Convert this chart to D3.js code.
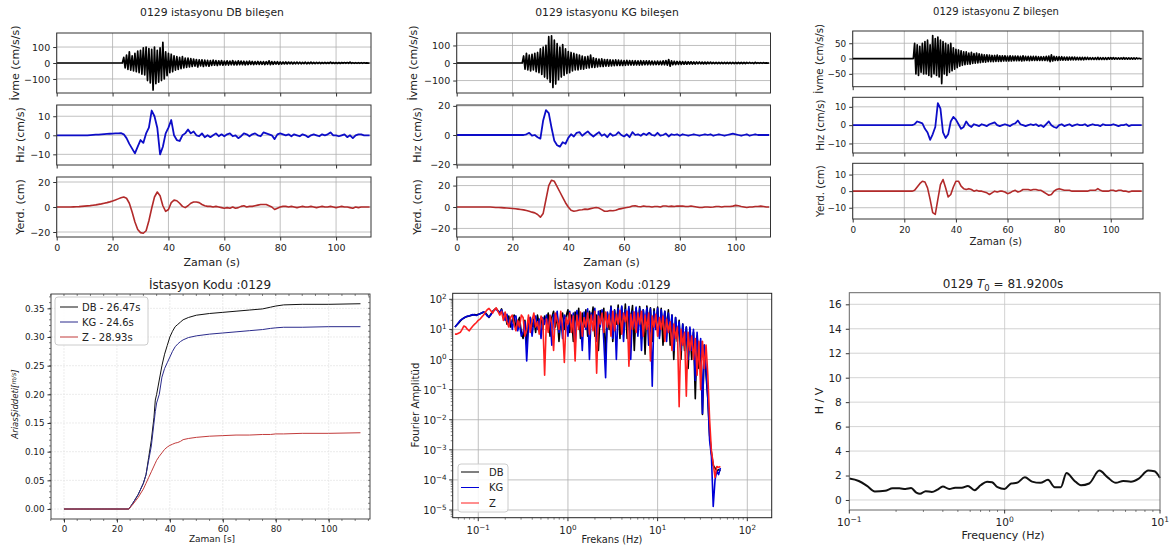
<!DOCTYPE html>
<html>
<head>
<meta charset="utf-8">
<script src="https://cdn.jsdelivr.net/npm/d3@7"></script>
<style>
  body { margin: 0; background: #fff; }
  svg { font-family: "DejaVu Sans", sans-serif; }
</style>
</head>
<body>
<svg width="1176" height="546"></svg>
<script>
// ---- data ----
var stationCode = "0129";
var rowLabels = ["İvme (cm/s/s)", "Hız (cm/s)", "Yerd. (cm)"];
var timeTicks = [0, 20, 40, 60, 80, 100];

// acceleration, one value every 0.5 s from 23.5 s (zero before)
var accStart = 23.5, accStep = 0.5;
var accDB = [0, 35, -30, 50, -40, 70, -45, 45, -50, 60,
  -55, 75, -60, 80, -70, 95, -75, 100, -110, 90,
  -125, 85, -170, 100, -130, 80, -120, 95, -110, 130,
  -100, 70, -80, 60, -60, 55, -55, 45, -45, 40,
  -40, 35, -35, 40, -30, 30, -28, 30, -25, 28,
  -22, 25, -20, 22, -25, 20, -18, 20, -22, 18,
  -18, 16, -20, 15, -15, 18, -14, 15, -16, 14,
  -12, 15, -14, 12, -12, 14, -13, 12, -11, 15,
  -12, 10, -12, 14, -10, 12, -10, 11, -12, 10,
  -10, 12, -9, 10, -10, 9, -8, 10, -9, 9,
  -8, 9, -10, 8, -8, 14, -10, 9, -8, 8,
  -7, 8, -8, 7, -7, 6, -6, 7, -6, 6,
  -5, 6, -6, 5, -5, 6, -5, 5, -5, 4,
  -4, 5, -5, 4, -4, 5, -4, 4, -4, 4,
  -3, 4, -4, 3, -3, 4, -3, 3, -3, 5,
  -3, 3, -3, 3, -3, 3, -3, 3, -2, 3,
  -2, 3, -2, 6, -2, 2, -2, 2, -2, 2,
  -2, 2, -2, 2, -1, 1, -1, 0];
var accKG = [0, 40, -35, 55, -40, 45, -45, 50, -40, 55,
  -50, 60, -55, 80, -65, 90, -80, 100, -90, 150,
  -110, 155, -140, 130, -120, 110, -95, 90, -80, 105,
  -70, 80, -60, 65, -55, 60, -45, 55, -40, 50,
  -40, 45, -35, 40, -35, 35, -30, 38, -28, 45,
  -25, 30, -25, 25, -22, 22, -20, 24, -20, 20,
  -18, 20, -18, 18, -16, 17, -15, 18, -14, 16,
  -14, 15, -14, 14, -13, 15, -12, 14, -12, 13,
  -12, 13, -11, 12, -12, 13, -11, 12, -10, 12,
  -10, 12, -10, 11, -10, 10, -9, 11, -9, 10,
  -10, 12, -10, 14, -12, 20, -18, 12, -10, 10,
  -9, 9, -8, 9, -8, 8, -7, 8, -7, 7,
  -6, 7, -6, 6, -6, 6, -5, 6, -5, 5,
  -5, 5, -5, 5, -4, 5, -4, 4, -4, 4,
  -4, 4, -4, 4, -3, 4, -3, 3, -3, 4,
  -3, 4, -3, 3, -3, 3, -3, 3, -3, 3,
  -3, 3, -2, 3, -2, 2, -3, 4, -2, 2,
  -2, 2, -2, 2, -1, 1, -1, 0];
var accZ = [0, 50, -50, 45, -55, 40, -45, 50, -50, 55,
  -50, 60, -55, 45, -60, 75, -50, 65, -55, 70,
  -60, 60, -82, 55, -50, 50, -55, 45, -45, 50,
  -40, 35, -35, 30, -30, 28, -25, 25, -22, 22,
  -20, 22, -18, 18, -18, 20, -16, 16, -15, 18,
  -14, 15, -13, 14, -12, 12, -12, 12, -10, 11,
  -10, 10, -10, 10, -9, 11, -9, 9, -9, 9,
  -8, 9, -8, 8, -8, 9, -8, 8, -7, 8,
  -7, 8, -7, 7, -8, 9, -7, 7, -6, 7,
  -7, 7, -6, 7, -6, 7, -6, 6, -6, 6,
  -6, 6, -6, 7, -7, 8, -10, 12, -8, 7,
  -6, 6, -6, 6, -5, 6, -5, 5, -5, 5,
  -5, 5, -4, 5, -4, 5, -4, 4, -4, 4,
  -4, 4, -4, 4, -3, 4, -3, 3, -3, 3,
  -3, 3, -3, 4, -3, 3, -3, 3, -3, 3,
  -3, 3, -2, 3, -2, 3, -2, 2, -2, 2,
  -2, 2, -2, 3, -2, 2, -2, 2, -2, 2,
  -2, 2, -2, 2, -1, 1, -1, 0];

// velocity and displacement, one value per second from 0 s
var velDB = [0, 0, 0, 0, 0, 0, 0, 0, 0, 0,
  0, 0, 0.1, 0.2, 0.3, 0.4, 0.5, 0.6, 0.7, 0.8,
  0.9, 1, 1, 1.1, 0.5, -1.5, -4.5, -7, -9.5, -6,
  -2.5, -4, 1, 4, 13, 10, 4, -10, -6, 1,
  4, 8, 0, -2.5, -3, 0, 1, 3, 1, 2,
  0, -0.5, 1, -1, 0, -1, 0, 1, -0.5, 0.5,
  -0.5, 0.5, 1, -0.5, 0, -1.5, -0.5, 1, 0.5, -0.5,
  0.5, 1, 0, -0.5, 1.5, 1, 0.5, 0, -2, 0.5,
  1, 0.5, 0, 0.5, -0.5, 0.5, 0, -0.5, 0.5, 0,
  -1, 0, 0.5, 0, -0.5, 0.5, 0, 0.5, 1.5, 0,
  0, -0.5, 0, 0.5, -1, 0, -1.5, 0, 0.5, 0.5,
  0, 0, 0];
var velKG = [0, 0, 0, 0, 0, 0, 0, 0, 0, 0,
  0, 0, 0, 0, 0, 0, 0, 0, 0, 0,
  0, 0, 0, 0, 0, 0.5, 1.5, -0.5, 0, -1.5,
  -2.5, 10, 17, 15, 5, -4, -7, -8, -5, -6,
  -2, 0.5, -1, 1.5, 2, -0.5, 1, 2.5, 0.5, -1,
  0.5, 2, -0.5, 0.5, -1.5, 1, -0.5, 0, 2, 0,
  -1, 0.5, -1.5, 2, 0, 0.5, -0.5, 1, 0, 1.5,
  0, -0.5, 1.5, -0.5, 0, 1, -1, 0.5, 0, 0.5,
  -0.5, 0.5, 0, -0.5, 0, 0.5, 0, -0.5, 0, 0.5,
  0, 0.5, -0.5, 0, 0.5, 0, -0.5, 0, 0.5, 1,
  0.5, 0, -0.5, 0, 0.5, -0.5, 0, 0.5, 0, 0,
  0, 0, 0];
var velZ = [0, 0, 0, 0, 0, 0, 0, 0, 0, 0,
  0, 0, 0, 0, 0, 0, 0, 0, 0, 0,
  0, 0, 0, 0, 0.5, 2, 1.5, 1, -2, -4,
  -8, -5, -1, 12, 9, -4, -7, -5, 2, 4.5,
  3, 0.5, -2, -1, 2, 0, -1, 0.5, 0, -0.5,
  0.5, 0, -0.5, 0.5, 1, 1.5, 0, -0.5, 0, 0.5,
  0, -0.5, 0.5, 1, 2.5, 0.5, 0, -0.5, 0, 0.5,
  0, 0.5, -0.5, 0, -1, 0.5, 2, 0, -1, -1.5,
  0, 0.5, -0.5, 0, 0.5, -0.5, 0, 0.5, 0, 0,
  0.5, -0.5, 0, 0.5, 0, 0, -0.5, 0.5, 0, 0,
  0, 0.5, 0, -0.5, 0, 0, 0.5, -0.5, 0, 0,
  0, 0, 0];
var dispDB = [0, 0, 0, 0, 0, 0, 0.1, 0.2, 0.3, 0.5,
  0.7, 0.9, 1.1, 1.4, 1.7, 2.1, 2.5, 3, 3.5, 4.1,
  4.8, 5.6, 6.5, 7.4, 8, 7, 3, -4, -12, -18,
  -20.5, -21, -19, -11, -1, 8, 12, 9, 1, -3.5,
  -2, 3.5, 5.5, 5, 3, 0.5, -0.5, 1, 3, 4,
  4, 3.5, 2, 1, 0.5, 0.5, 0, 0.5, 0, -0.5,
  -1, -0.5, -1, 0, -1, -0.5, 0.5, 1, 0, 0.5,
  0.5, 1, 1.5, 2, 2, 2, 1, 0, -2, -1,
  0, 0.5, 0.5, 0, 0.5, 0, -0.5, 0, 0.5, 0,
  0, 0.5, 0, -0.5, 0, 0.5, 0, 0, 0.5, 0,
  -0.5, 0, 0.5, 0, 0, -0.5, -1, 0, -0.5, 0,
  0, 0, 0];
var dispKG = [0, 0, 0, 0, 0, 0, 0, 0, 0, 0,
  0, 0, 0, -0.2, -0.4, -0.5, -0.6, -0.8, -1, -1.2,
  -1.4, -1.7, -2, -2.3, -2.7, -3.2, -4, -4.8, -5.5, -7,
  -9.5, -6, 7, 20, 25, 24, 19, 14, 9, 4,
  0, -3, -4, -3.5, -2.8, -2.5, -2, -2.2, -1.5, -1,
  -0.5, -1, -2.5, -4, -4, -3.2, -3.5, -3, -2, -1.5,
  -1, -0.5, 0, 1, 1.2, 0.5, 0.3, 1, 0.5, 0.5,
  0, 0.5, 0.5, 0, 1, 1, 0.5, 0.8, 0.5, 1,
  0.8, 1, 0.5, 0.5, 1, 0.5, 0, -0.5, -0.5, 0,
  0, -0.3, 0, 0.5, 0.5, 0, 0.5, 0.5, 0.5, 0.8,
  1.5, 1.2, 0.5, 0, -0.5, 0, 0, 0.5, 0.5, 0.8,
  0.5, 0, 0];
var dispZ = [0, 0, 0, 0, 0, 0, 0, 0, 0, 0,
  0, 0, 0, 0, 0, 0, 0, 0, 0, 0,
  0, 0, 0, 0, 0.5, 2.5, 4.5, 6, 5.5, 2,
  -5, -13, -14, -5, 4, 7, 2, -3.5, -2, 2.5,
  6, 6, 3, 1.5, 1, 1.5, 1, 0, 0.5, 0,
  0, -0.5, -1, -2, -1, 0, -0.5, 0, 0, -0.5,
  -1.5, -1, 0, 0.5, -0.5, 0, 1, 1, 1, 0.5,
  1, 1, 0.5, 0.5, -0.5, -1.5, -2.5, -2, 0, 1,
  1.5, 1, 0.5, 0.5, 0.5, 0, 0, 0, 0, 0,
  0, 0, 0.5, 0.5, 0.5, 1.5, 0.5, 0, 0, 0,
  0.5, 0.5, 0, 0.5, 0.5, 0, 0, -0.5, 0, 0,
  0, 0, 0];

// Arias intensity
var ariasTime = [0, 24.5, 26, 28, 30, 31, 32, 33, 34, 34.5, 35, 36, 37, 38, 39, 40, 41, 42, 43, 44,
  45, 47, 50, 55, 60, 65, 70, 75, 78, 80, 83, 90, 100, 112];
var ariasDB = [0, 0, 0.01, 0.025, 0.045, 0.06, 0.09, 0.12, 0.16, 0.19, 0.2, 0.225, 0.25, 0.27, 0.285, 0.3, 0.31, 0.318, 0.322, 0.326,
  0.33, 0.334, 0.338, 0.341, 0.343, 0.345, 0.347, 0.349, 0.352, 0.354, 0.356, 0.357, 0.357, 0.358];
var ariasKG = [0, 0, 0.01, 0.025, 0.045, 0.06, 0.085, 0.11, 0.15, 0.17, 0.185, 0.2, 0.23, 0.245, 0.255, 0.265, 0.275, 0.283, 0.288, 0.292,
  0.295, 0.299, 0.302, 0.305, 0.307, 0.309, 0.311, 0.313, 0.315, 0.316, 0.317, 0.317, 0.318, 0.318];
var ariasZ = [0, 0, 0.008, 0.02, 0.035, 0.045, 0.055, 0.065, 0.075, 0.08, 0.085, 0.092, 0.098, 0.104, 0.108, 0.111, 0.113, 0.115, 0.116, 0.118,
  0.121, 0.123, 0.125, 0.127, 0.128, 0.129, 0.129, 0.13, 0.13, 0.131, 0.131, 0.132, 0.132, 0.133];
var ariasLabels = ["DB - 26.47s", "KG - 24.6s", "Z - 28.93s"];
var ariasXTicks = [0, 20, 40, 60, 80, 100];
var ariasYTicks = [0, 0.05, 0.1, 0.15, 0.2, 0.25, 0.3, 0.35];

// Fourier amplitude, sampled every 0.02 in log10(frequency) from -1.26
var fourierLogStart = -1.26, fourierLogStep = 0.02;
var fourierDB = [12, 14, 16, 19, 22, 24, 26, 27, 28, 29, 30, 31, 30, 32,
  33, 35, 38, 36, 30, 25, 32, 40, 45, 50, 42, 35,
  48, 25, 35, 15, 28, 12, 20, 30, 10, 18, 25, 8,
  5, 20, 3, 15, 25, 12, 22, 8, 30, 15, 25, 10, 28,
  18, 35, 6, 25, 40, 12, 30, 4, 22, 35, 10, 28,
  45, 8, 30, 4, 38, 15, 50, 5, 35, 12,
  45, 6, 40, 18, 55, 6, 30, 2, 42, 20,
  50, 1, 35, 10, 60, 4, 45, 15, 65, 5,
  55, 8, 70, 5, 48, 20, 62, 2, 50, 12,
  58, 5, 45, 1.5, 60, 15, 52, 4, 48, 10,
  55, 6, 50, 3, 40, 12, 45, 3, 30, 1,
  25, 4, 20, 1, 15, 2, 12, 0.5, 10, 1,
  8, 0.05, 6, 0.5, 4, 0.015, 3, 0.3, 0.05, 0.003,
  0.0008, 0.0003, 0.00025, 0.0002, 0.00022, 0.0002];
var fourierKG = [12, 14, 17, 20, 22, 24, 26, 28, 28, 30, 31, 30, 29, 31,
  33, 36, 38, 34, 28, 26, 30, 38, 44, 48, 40, 38,
  45, 30, 20, 32, 14, 22, 10, 25, 28, 9, 16, 6,
  8, 18, 0.9, 12, 25, 6, 20, 28, 10, 22, 5, 25, 15,
  30, 10, 28, 3, 32, 18, 40, 8, 25, 5, 30, 20,
  6, 40, 12, 35, 3, 42, 18, 30, 2, 38,
  10, 48, 1, 35, 20, 50, 4, 40, 12, 45,
  4, 0.25, 38, 15, 55, 5, 42, 1, 50, 18,
  60, 4, 45, 22, 58, 1, 40, 12, 55, 6,
  50, 2, 45, 18, 52, 3, 48, 0.13, 40, 10,
  50, 5, 45, 15, 40, 4, 35, 8, 30, 2,
  25, 6, 18, 2, 15, 3, 12, 1, 12, 2,
  10, 0.2, 8, 1, 5, 0.016, 3, 0.5, 0.05, 0.002,
  0.0006, 0.000013, 0.0001, 0.0002, 0.00015, 0.00025];
var fourierZ = [7, 7, 7.5, 8, 10, 13, 12, 10, 9, 11, 13, 15, 17, 20,
  22, 26, 30, 38, 45, 50, 42, 35, 45, 52, 40, 30,
  40, 20, 38, 18, 12, 25, 30, 15, 9, 20, 12, 30,
  25, 6, 10, 30, 8, 20, 35, 12, 18, 7, 28, 20, 0.3,
  22, 8, 30, 15, 2, 35, 20, 10, 40, 12, 0.8, 25,
  15, 35, 8, 28, 0.9, 30, 10, 38, 6, 25,
  12, 35, 7, 30, 9, 40, 0.35, 28, 15, 35,
  8, 38, 12, 30, 6, 40, 9, 32, 15, 42,
  7, 35, 18, 40, 0.6, 32, 10, 38, 8, 35,
  15, 40, 6, 30, 10, 35, 0.9, 28, 12, 32,
  6, 25, 10, 28, 4, 22, 8, 18, 2, 15,
  5, 12, 0.027, 10, 3, 8, 0.06, 8, 2, 6,
  1, 5, 0.3, 4, 0.1, 4, 0.5, 3, 0.3, 0.01,
  0.0009, 0.00035, 0.00012, 0.00028, 0.00026, 0.00028];
var fourierNames = ["DB", "KG", "Z"];

// H/V spectral ratio
var hvFreq = [0.1, 0.115, 0.13, 0.146, 0.17, 0.19, 0.21, 0.23, 0.25, 0.27, 0.285, 0.31, 0.34, 0.37, 0.4, 0.44,
  0.48, 0.53, 0.58, 0.64, 0.7, 0.77, 0.83, 0.9, 1.0, 1.1, 1.2, 1.35, 1.5, 1.7, 1.9, 2.1, 2.3, 2.5, 2.8,
  3.1, 3.5, 4.07, 4.6, 5.2, 5.8, 6.5, 7.3, 8.4, 9.2, 10];
var hvRatio = [1.75, 1.55, 1.15, 0.7, 0.75, 0.95, 0.95, 0.9, 0.97, 0.6, 0.5, 0.72, 0.65, 0.85, 1.1, 0.9,
  1.0, 1.0, 1.15, 0.8, 1.2, 1.5, 1.45, 1.05, 0.9, 1.35, 1.4, 1.85, 1.5, 1.4, 1.65, 1.05, 1.05, 2.2, 1.6,
  1.2, 1.35, 2.4, 1.85, 1.4, 1.55, 1.5, 1.75, 2.4, 2.35, 1.8];
var hvYTicks = [0, 2, 4, 6, 8, 10, 12, 14, 16];
var hvPeriod = "81.9200";

var svg = d3.select("svg");
var textColor = "#222";

function styleAxis(sel, size) {
  sel.attr("font-family", "DejaVu Sans, sans-serif").attr("font-size", size);
  sel.select(".domain").remove();
  sel.selectAll("line").attr("stroke", "#333");
  sel.selectAll("text").attr("fill", textColor);
}

function clipRect(id, x, y, w, h) {
  svg.append("clipPath").attr("id", id).append("rect")
    .attr("x", x).attr("y", y).attr("width", w).attr("height", h);
}

function yLabel(x, y, text, size) {
  return svg.append("text")
    .attr("transform", "translate(" + x + "," + y + ") rotate(-90)")
    .attr("dy", "0.35em")
    .attr("text-anchor", "middle")
    .attr("font-size", size)
    .attr("fill", textColor)
    .text(text);
}

// "10" with an exponent
function powText(parent, x, y, exp, size, anchor) {
  var t = parent.append("text").attr("x", x).attr("y", y)
    .attr("text-anchor", anchor).attr("font-size", size).attr("fill", textColor);
  t.append("tspan").text("10");
  t.append("tspan").attr("dy", -size * 0.42).attr("font-size", size * 0.72)
    .text(exp < 0 ? "−" + (-exp) : exp);
  return t;
}

// ---- top row: accel / velocity / displacement per component ----
var topGroups = [
  { key: "DB", acc: accDB, vel: velDB, disp: dispDB, left: 56.7, right: 371, tops: [33, 105, 177], h: 60,
    doms: [[-188, 188], [-15.6, 15.9], [-24, 24]], ticks: [[-100, 0, 100], [-10, 0, 10], [-20, 0, 20]],
    labelX: [15, 20, 20], titleX: 212, titleY: 16, xLabelY: 266, fs: 1 },
  { key: "KG", acc: accKG, vel: velKG, disp: dispKG, left: 456.7, right: 770.5, tops: [33, 105, 177], h: 60,
    doms: [[-171, 171], [-20.6, 20.6], [-28, 28]], ticks: [[-100, 0, 100], [-20, 0, 20], [-20, 0, 20]],
    labelX: [413, 417, 417], titleX: 607, titleY: 16, xLabelY: 266, fs: 1 },
  { key: "Z", acc: accZ, vel: velZ, disp: dispZ, left: 852.7, right: 1143, tops: [31, 97.3, 163.3], h: 55.7,
    doms: [[-92, 90], [-15.2, 15.2], [-16.8, 16.8]], ticks: [[-50, 0, 50], [-10, 0, 10], [-10, 0, 10]],
    labelX: [819, 820, 820], titleX: 996, titleY: 15, xLabelY: 245, fs: 0.93 }
];
var rowColors = ["#000", "#0d0dc8", "#b22a2a"];
var rowWidths = [1.7, 1.8, 1.6];

topGroups.forEach(function(gr) {
  var x = d3.scaleLinear().domain([0, 112.5]).range([gr.left, gr.right]);
  var w = gr.right - gr.left;

  svg.append("text").attr("x", gr.titleX).attr("y", gr.titleY)
    .attr("text-anchor", "middle").attr("font-size", 10.8 * gr.fs).attr("fill", textColor)
    .text(stationCode + " istasyonu " + gr.key + " bileşen");

  [gr.acc, gr.vel, gr.disp].forEach(function(vals, r) {
    var top = gr.tops[r], bottom = top + gr.h;
    var y = d3.scaleLinear().domain(gr.doms[r]).range([bottom, top]);
    var g = svg.append("g");

    // grid
    g.selectAll(".vgrid").data(timeTicks).enter().append("line").attr("class", "vgrid")
      .attr("x1", d => x(d)).attr("x2", d => x(d)).attr("y1", top).attr("y2", bottom)
      .attr("stroke", "#b0b0b0").attr("stroke-width", 0.8);
    g.selectAll(".hgrid").data(gr.ticks[r]).enter().append("line").attr("class", "hgrid")
      .attr("x1", gr.left).attr("x2", gr.right).attr("y1", d => y(d)).attr("y2", d => y(d))
      .attr("stroke", "#b0b0b0").attr("stroke-width", 0.8);

    var pts;
    if (r === 0) {
      pts = [[0, 0]].concat(vals.map((v, i) => [accStart + i * accStep, v]));
    } else {
      pts = vals.map((v, i) => [i, v]);
    }
    var cid = "clip" + gr.key + r;
    clipRect(cid, gr.left, top, w, gr.h);
    g.append("path").datum(pts)
      .attr("clip-path", "url(#" + cid + ")")
      .attr("fill", "none")
      .attr("stroke", rowColors[r])
      .attr("stroke-width", rowWidths[r])
      .attr("stroke-linejoin", "round")
      .attr("d", d3.line().x(d => x(d[0])).y(d => y(d[1])));

    g.append("rect").attr("x", gr.left).attr("y", top).attr("width", w).attr("height", gr.h)
      .attr("fill", "none").attr("stroke", "#333").attr("stroke-width", 1);

    var ya = g.append("g").attr("transform", "translate(" + gr.left + ",0)")
      .call(d3.axisLeft(y).tickValues(gr.ticks[r]).tickSize(3.5).tickPadding(3).tickFormat(d3.format("d")));
    styleAxis(ya, 9.5 * gr.fs);

    var xa = g.append("g").attr("transform", "translate(0," + bottom + ")")
      .call(d3.axisBottom(x).tickValues(timeTicks).tickSize(3.5).tickPadding(4)
        .tickFormat(r === 2 ? d3.format("d") : ""));
    styleAxis(xa, 9.5 * gr.fs);

    yLabel(gr.labelX[r], top + gr.h / 2, rowLabels[r], 11 * gr.fs);
  });

  svg.append("text").attr("x", (gr.left + gr.right) / 2 - 2).attr("y", gr.xLabelY)
    .attr("text-anchor", "middle").attr("font-size", 11 * gr.fs).attr("fill", textColor)
    .text("Zaman (s)");
});

// ---- Arias intensity ----
(function() {
  var L = 51, R = 370, T = 294, B = 519;
  var x = d3.scaleLinear().domain([-4.9, 115.6]).range([L, R]);
  var y = d3.scaleLinear().domain([-0.0174, 0.375]).range([B, T]);
  var g = svg.append("g");

  var xMinor = d3.range(-5, 116, 5), yMinor = d3.range(0, 0.375, 0.01);
  g.selectAll(".mg").data(ariasXTicks).enter().append("line").attr("class", "mg")
    .attr("x1", d => x(d)).attr("x2", d => x(d)).attr("y1", T).attr("y2", B)
    .attr("stroke", "#e4e4e4").attr("stroke-width", 0.7).attr("stroke-dasharray", "2,1");
  g.selectAll(".ng").data(ariasYTicks).enter().append("line").attr("class", "ng")
    .attr("x1", L).attr("x2", R).attr("y1", d => y(d)).attr("y2", d => y(d))
    .attr("stroke", "#e4e4e4").attr("stroke-width", 0.7).attr("stroke-dasharray", "2,1");

  var series = [ariasDB, ariasKG, ariasZ];
  var colors = ["#111", "#2b2b8c", "#c23b3b"];
  var line = d3.line().x(d => x(d[0])).y(d => y(d[1]));
  series.forEach(function(s, k) {
    g.append("path").datum(s.map((v, i) => [ariasTime[i], v]))
      .attr("fill", "none").attr("stroke", colors[k]).attr("stroke-width", 1).attr("d", line);
  });

  g.append("rect").attr("x", L).attr("y", T).attr("width", R - L).attr("height", B - T)
    .attr("fill", "none").attr("stroke", "#333").attr("stroke-width", 0.9);

  var xa = g.append("g").attr("transform", "translate(0," + B + ")")
    .call(d3.axisBottom(x).tickValues(ariasXTicks).tickSize(3.5).tickPadding(3).tickFormat(d3.format("d")));
  styleAxis(xa, 8.8);
  var ya = g.append("g").attr("transform", "translate(" + L + ",0)")
    .call(d3.axisLeft(y).tickValues(ariasYTicks).tickSize(3.5).tickPadding(3).tickFormat(d3.format(".2f")));
  styleAxis(ya, 8.8);

  // minor ticks on all sides
  g.selectAll(".mxb").data(xMinor).enter().append("line")
    .attr("x1", d => x(d)).attr("x2", d => x(d)).attr("y1", B).attr("y2", B + 2).attr("stroke", "#333").attr("stroke-width", 0.6);
  g.selectAll(".mxt").data(xMinor).enter().append("line")
    .attr("x1", d => x(d)).attr("x2", d => x(d)).attr("y1", T).attr("y2", T + 2).attr("stroke", "#333").attr("stroke-width", 0.6);
  g.selectAll(".myl").data(yMinor).enter().append("line")
    .attr("x1", L - 2).attr("x2", L).attr("y1", d => y(d)).attr("y2", d => y(d)).attr("stroke", "#333").attr("stroke-width", 0.6);
  g.selectAll(".myr").data(yMinor).enter().append("line")
    .attr("x1", R - 2).attr("x2", R).attr("y1", d => y(d)).attr("y2", d => y(d)).attr("stroke", "#333").attr("stroke-width", 0.6);

  // legend
  var lg = g.append("g");
  lg.append("rect").attr("x", 55).attr("y", 297).attr("width", 93).attr("height", 48).attr("rx", 3)
    .attr("fill", "#fff").attr("fill-opacity", 0.85).attr("stroke", "#ccc");
  ariasLabels.forEach(function(lab, k) {
    var ly = 307 + k * 15;
    lg.append("line").attr("x1", 60).attr("x2", 78).attr("y1", ly).attr("y2", ly)
      .attr("stroke", colors[k]).attr("stroke-width", 1);
    lg.append("text").attr("x", 82).attr("y", ly + 3.5).attr("font-size", 10).attr("fill", textColor).text(lab);
  });

  svg.append("text").attr("x", 210).attr("y", 289).attr("text-anchor", "middle")
    .attr("font-size", 12).attr("fill", textColor).text("İstasyon Kodu :" + stationCode);
  svg.append("text").attr("x", 212).attr("y", 542).attr("text-anchor", "middle")
    .attr("font-size", 9).attr("fill", textColor).text("Zaman [s]");
  var al = yLabel(15, 404, "", 8.5).attr("font-style", "italic");
  al.append("tspan").text("AriasŞiddeti[");
  al.append("tspan").attr("font-size", 6.5).attr("dy", -1.5).text("m/s");
  al.append("tspan").attr("dy", 1.5).text("]");
})();

// ---- Fourier amplitude spectrum ----
(function() {
  var L = 452.7, R = 771.7, T = 293.3, B = 517.7;
  var x = d3.scaleLog().domain([Math.pow(10, -1.285), Math.pow(10, 2.272)]).range([L, R]);
  var y = d3.scaleLog().domain([Math.pow(10, -5.256), Math.pow(10, 2.2)]).range([B, T]);
  var g = svg.append("g");
  var xExp = [-1, 0, 1, 2], yExp = [-5, -4, -3, -2, -1, 0, 1, 2];

  g.selectAll(".vg").data(xExp).enter().append("line").attr("class", "vg")
    .attr("x1", d => x(Math.pow(10, d))).attr("x2", d => x(Math.pow(10, d))).attr("y1", T).attr("y2", B)
    .attr("stroke", "#b0b0b0").attr("stroke-width", 0.8);
  g.selectAll(".hg").data(yExp).enter().append("line").attr("class", "hg")
    .attr("x1", L).attr("x2", R).attr("y1", d => y(Math.pow(10, d))).attr("y2", d => y(Math.pow(10, d)))
    .attr("stroke", "#b0b0b0").attr("stroke-width", 0.8);

  clipRect("clipF", L, T, R - L, B - T);
  var series = [fourierDB, fourierKG, fourierZ];
  var colors = ["#000", "#0000d8", "#ff1f1f"];
  var line = d3.line().x(d => x(d[0])).y(d => y(d[1]));
  series.forEach(function(s, k) {
    g.append("path")
      .datum(s.map((v, i) => [Math.pow(10, fourierLogStart + i * fourierLogStep), v]))
      .attr("clip-path", "url(#clipF)")
      .attr("fill", "none").attr("stroke", colors[k]).attr("stroke-width", 1.6)
      .attr("stroke-linejoin", "round").attr("d", line);
  });

  g.append("rect").attr("x", L).attr("y", T).attr("width", R - L).attr("height", B - T)
    .attr("fill", "none").attr("stroke", "#222").attr("stroke-width", 1);

  // ticks and labels
  xExp.forEach(function(e) {
    var px = x(Math.pow(10, e));
    g.append("line").attr("x1", px).attr("x2", px).attr("y1", B).attr("y2", B + 3.5).attr("stroke", "#333");
    powText(g, px, B + 16, e, 10, "middle");
  });
  yExp.forEach(function(e) {
    var py = y(Math.pow(10, e));
    g.append("line").attr("x1", L - 3.5).attr("x2", L).attr("y1", py).attr("y2", py).attr("stroke", "#333");
    powText(g, L - 6, py + 4, e, 10, "end");
  });
  var xm = [], ym = [];
  d3.range(-2, 3).forEach(function(e) {
    d3.range(2, 10).forEach(function(m) {
      var v = m * Math.pow(10, e);
      if (v > x.domain()[0] && v < x.domain()[1]) xm.push(v);
    });
  });
  d3.range(-6, 3).forEach(function(e) {
    d3.range(2, 10).forEach(function(m) {
      var v = m * Math.pow(10, e);
      if (v > y.domain()[0] && v < y.domain()[1]) ym.push(v);
    });
  });
  g.selectAll(".xm").data(xm).enter().append("line")
    .attr("x1", d => x(d)).attr("x2", d => x(d)).attr("y1", B).attr("y2", B + 2).attr("stroke", "#333").attr("stroke-width", 0.6);
  g.selectAll(".ym").data(ym).enter().append("line")
    .attr("x1", L - 2).attr("x2", L).attr("y1", d => y(d)).attr("y2", d => y(d)).attr("stroke", "#333").attr("stroke-width", 0.6);

  // legend
  var lg = g.append("g");
  lg.append("rect").attr("x", 458).attr("y", 464).attr("width", 50).attr("height", 48).attr("rx", 3)
    .attr("fill", "#fff").attr("fill-opacity", 0.85).attr("stroke", "#ccc");
  fourierNames.forEach(function(n, k) {
    var ly = 472 + k * 15.5;
    lg.append("line").attr("x1", 461).attr("x2", 479).attr("y1", ly).attr("y2", ly)
      .attr("stroke", colors[k]).attr("stroke-width", 1);
    lg.append("text").attr("x", 489).attr("y", ly + 3.5).attr("font-size", 10).attr("fill", textColor).text(n);
  });

  svg.append("text").attr("x", 612).attr("y", 289).attr("text-anchor", "middle")
    .attr("font-size", 11.5).attr("fill", textColor).text("İstasyon Kodu :" + stationCode);
  svg.append("text").attr("x", 612).attr("y", 542.5).attr("text-anchor", "middle")
    .attr("font-size", 9.8).attr("fill", textColor).text("Frekans (Hz)");
  yLabel(415, 405, "Fourier Amplitüd", 10.2);
})();

// ---- H/V ratio ----
(function() {
  var L = 849.3, R = 1160, T = 292.7, B = 510;
  var x = d3.scaleLog().domain([0.1, 10]).range([L, R]);
  var y = d3.scaleLinear().domain([-0.82, 16.95]).range([B, T]);
  var g = svg.append("g");

  g.selectAll(".hg").data(hvYTicks).enter().append("line").attr("class", "hg")
    .attr("x1", L).attr("x2", R).attr("y1", d => y(d)).attr("y2", d => y(d))
    .attr("stroke", "#c8c8c8").attr("stroke-width", 0.8);
  g.append("line").attr("x1", x(1)).attr("x2", x(1)).attr("y1", T).attr("y2", B)
    .attr("stroke", "#c8c8c8").attr("stroke-width", 0.8);

  g.append("path").datum(hvFreq.map((f, i) => [f, hvRatio[i]]))
    .attr("fill", "none").attr("stroke", "#111").attr("stroke-width", 2)
    .attr("d", d3.line().x(d => x(d[0])).y(d => y(d[1])).curve(d3.curveMonotoneX));

  g.append("rect").attr("x", L).attr("y", T).attr("width", R - L).attr("height", B - T)
    .attr("fill", "none").attr("stroke", "#666").attr("stroke-width", 1);

  var ya = g.append("g").attr("transform", "translate(" + L + ",0)")
    .call(d3.axisLeft(y).tickValues(hvYTicks).tickSize(3.5).tickPadding(4).tickFormat(d3.format("d")));
  styleAxis(ya, 10.5);

  [-1, 0, 1].forEach(function(e) {
    var px = x(Math.pow(10, e));
    g.append("line").attr("x1", px).attr("x2", px).attr("y1", B).attr("y2", B + 3.5).attr("stroke", "#333");
    powText(g, px, B + 16, e, 10.5, "middle");
  });
  var xm = [];
  [-1, 0].forEach(function(e) {
    d3.range(2, 10).forEach(function(m) { xm.push(m * Math.pow(10, e)); });
  });
  g.selectAll(".xm").data(xm).enter().append("line")
    .attr("x1", d => x(d)).attr("x2", d => x(d)).attr("y1", B).attr("y2", B + 2).attr("stroke", "#333").attr("stroke-width", 0.6);

  var t = svg.append("text").attr("x", 1003).attr("y", 287.5).attr("text-anchor", "middle")
    .attr("font-size", 12).attr("fill", textColor);
  t.append("tspan").text(stationCode + " ");
  t.append("tspan").attr("font-style", "italic").text("T");
  t.append("tspan").attr("font-size", 8.5).attr("dy", 3).text("0");
  t.append("tspan").attr("dy", -3).text(" = " + hvPeriod + "s");

  svg.append("text").attr("x", 1003).attr("y", 539).attr("text-anchor", "middle")
    .attr("font-size", 11).attr("fill", textColor).text("Frequency (Hz)");
  yLabel(819, 401, "H / V", 11);
})();
</script>
</body>
</html>
